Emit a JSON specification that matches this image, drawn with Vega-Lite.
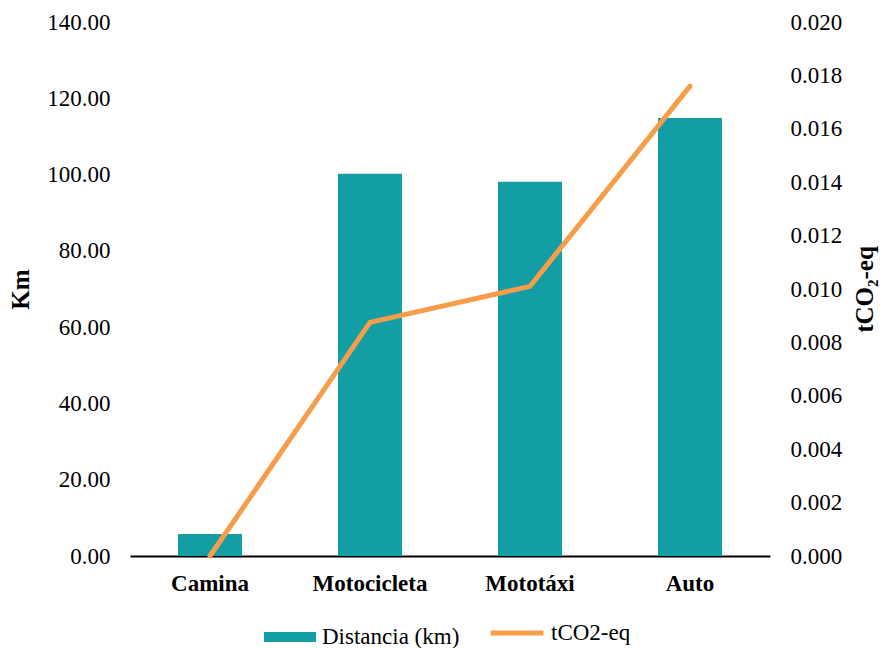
{
  "$schema": "https://vega.github.io/schema/vega-lite/v6.json",
  "width": 640,
  "height": 534,
  "autosize": {"type": "none"},
  "padding": {"left": 130, "top": 22, "right": 120, "bottom": 92},
  "background": "white",
  "config": {
    "view": {"stroke": null},
    "font": "Liberation Serif",
    "axis": {"labelFont": "Liberation Serif", "titleFont": "Liberation Serif", "labelColor": "#000", "titleColor": "#000", "grid": false, "ticks": false},
    "legend": {"labelFont": "Liberation Serif", "labelFontSize": 23, "labelColor": "#000", "labelLimit": 300}
  },
  "data": {
    "values": [
      {"cat": "Camina", "km": 5.8, "tco2": 0.0},
      {"cat": "Motocicleta", "km": 100.2, "tco2": 0.00875},
      {"cat": "Mototáxi", "km": 98.1, "tco2": 0.0101},
      {"cat": "Auto", "km": 114.8, "tco2": 0.0176}
    ]
  },
  "layer": [
    {
      "mark": {"type": "bar"},
      "encoding": {
        "x": {
          "field": "cat", "type": "nominal", "sort": null,
          "scale": {"paddingInner": 0.6, "paddingOuter": 0.3},
          "axis": {"title": null, "labelAngle": 0, "labelFontSize": 23, "labelFontWeight": "bold", "labelPadding": 16, "domainColor": "#000", "domainWidth": 2}
        },
        "y": {
          "field": "km", "type": "quantitative",
          "scale": {"domain": [0, 140], "nice": false},
          "axis": {"title": "Km", "titleFontSize": 25, "titleFontWeight": "bold", "titlePadding": 13, "format": ".2f", "values": [0, 20, 40, 60, 80, 100, 120, 140], "labelFontSize": 23, "labelPadding": 20, "domain": false}
        },
        "color": {
          "datum": "Distancia (km)",
          "scale": {"range": ["#129EA4"]},
          "legend": {"title": null, "orient": "none", "legendX": 134, "legendY": 589, "symbolType": "M-1,-0.19H1V0.19H-1Z", "symbolSize": 2700, "symbolStrokeWidth": 0, "labelOffset": 6}
        }
      }
    },
    {
      "mark": {"type": "line", "strokeWidth": 5, "strokeCap": "round"},
      "encoding": {
        "x": {"field": "cat", "type": "nominal", "sort": null},
        "y": {
          "field": "tco2", "type": "quantitative",
          "scale": {"domain": [0, 0.02], "nice": false},
          "axis": {"orient": "right", "title": "tCO₂-eq", "titleAngle": 270, "titleFontSize": 25, "titleFontWeight": "bold", "titlePadding": 36, "format": ".3f", "values": [0, 0.002, 0.004, 0.006, 0.008, 0.01, 0.012, 0.014, 0.016, 0.018, 0.02], "labelFontSize": 23, "labelPadding": 20, "domain": false}
        },
        "stroke": {
          "datum": "tCO2-eq",
          "scale": {"range": ["#F79D4A"]},
          "legend": {"title": null, "orient": "none", "legendX": 358, "legendY": 582, "symbolType": "stroke", "symbolSize": 2800, "symbolStrokeWidth": 5, "labelOffset": 5}
        }
      }
    }
  ],
  "resolve": {"scale": {"y": "independent", "color": "independent"}}
}
